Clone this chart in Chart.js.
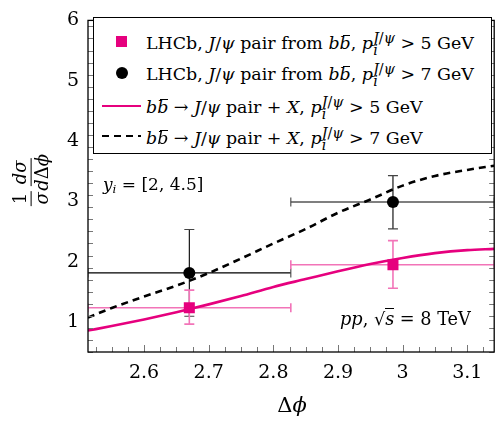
<!DOCTYPE html>
<html><head><meta charset="utf-8">
<script src="https://cdn.jsdelivr.net/npm/chart.js@4.4.0/dist/chart.umd.min.js"></script>
<style>
html,body{margin:0;padding:0;background:#fff;}
#wrap{position:relative;width:502px;height:422px;font-family:'DejaVu Serif','Liberation Serif',serif;color:#000;overflow:hidden;}
canvas{position:absolute;left:0;top:0;}
.ov{position:absolute;white-space:nowrap;line-height:1;}
i{font-style:italic;}
.bar{position:relative;display:inline-block;}
.bar::after{content:'';position:absolute;left:0.18em;right:0.02em;top:0.02em;border-top:1px solid #000;}
.ss{display:inline-flex;flex-direction:column;align-items:flex-start;vertical-align:0.4em;font-size:0.82em;line-height:0.85;margin-left:0.02em;}
.ss span{display:block;}
#legend{position:absolute;left:93px;top:17px;width:399px;height:137px;border:1px solid #000;background:#fff;box-sizing:border-box;}
.lt{position:absolute;left:52px;font-size:17.4px;white-space:nowrap;line-height:1;}
.frac{display:inline-flex;flex-direction:column;align-items:center;vertical-align:middle;line-height:1.05;}
.frac .num{border-bottom:1px solid #000;padding:0 2px 1px 2px;}
.frac .den{padding-top:1px;}
</style></head><body>
<div id="wrap">
<canvas id="c" width="502" height="422"></canvas>
<div id="legend">
  <div style="position:absolute;left:22px;top:17.5px;width:11px;height:11px;background:#e6007e;"></div>
  <div class="lt" style="top:14px;">LHCb, <i>J</i>/<i>ψ</i> pair from <i>b</i><i class="bar">b</i>, <i>p</i><span class="ss"><span><i>J</i>/<i>ψ</i></span><span><i>i</i></span></span> &gt; 5 GeV</div>
  <div style="position:absolute;left:21.5px;top:48.5px;width:12px;height:12px;border-radius:50%;background:#000;"></div>
  <div class="lt" style="top:45px;">LHCb, <i>J</i>/<i>ψ</i> pair from <i>b</i><i class="bar">b</i>, <i>p</i><span class="ss"><span><i>J</i>/<i>ψ</i></span><span><i>i</i></span></span> &gt; 7 GeV</div>
  <div style="position:absolute;left:8px;top:86.5px;width:39px;height:2.5px;background:#e6007e;"></div>
  <div class="lt" style="top:78px;"><i>b</i><i class="bar">b</i> → <i>J</i>/<i>ψ</i> pair + <i>X</i>, <i>p</i><span class="ss"><span><i>J</i>/<i>ψ</i></span><span><i>i</i></span></span> &gt; 5 GeV</div>
  <div style="position:absolute;left:8px;top:116.5px;width:39px;height:2.5px;background:repeating-linear-gradient(90deg,#000 0 7px,transparent 7px 12px);"></div>
  <div class="lt" style="top:109px;"><i>b</i><i class="bar">b</i> → <i>J</i>/<i>ψ</i> pair + <i>X</i>, <i>p</i><span class="ss"><span><i>J</i>/<i>ψ</i></span><span><i>i</i></span></span> &gt; 7 GeV</div>
</div>
<div class="ov" style="left:103px;top:176px;font-size:17px;"><i>y</i><sub style="font-size:0.7em;vertical-align:-0.25em;"><i>i</i></sub> = [2, 4.5]</div>
<div class="ov" style="left:340px;top:311px;font-size:17.7px;"><i>pp</i>, √<span style="border-top:1px solid #000;"><i>s</i></span> = 8 TeV</div>
<div class="ov" style="left:292px;top:405px;font-size:21px;transform:translate(-50%,-50%);">Δ<i>ϕ</i></div>
<div class="ov" style="left:31px;top:180px;font-size:18px;transform:translate(-50%,-50%) rotate(-90deg);">
  <span class="frac"><span class="num">1</span><span class="den"><i>σ</i></span></span><span class="frac"><span class="num"><i>dσ</i></span><span class="den"><i>d</i>Δ<i>ϕ</i></span></span>
</div>
</div>
<script>
// ---- data ----
const xMin = 0.8 * Math.PI;
const xMax = Math.PI;
const yMin = 0.5;
const yMax = 6;
const xTickVals = [2.6, 2.7, 2.8, 2.9, 3.0, 3.1];
const yTickVals = [1, 2, 3, 4, 5, 6];

const curveX  = [2.513, 2.55, 2.60, 2.65, 2.70, 2.75, 2.80, 2.85, 2.90, 2.95, 3.00, 3.05, 3.10, 3.1416];
const curve5  = [0.855, 0.93, 1.04, 1.16, 1.29, 1.43, 1.58, 1.71, 1.84, 1.96, 2.06, 2.14, 2.19, 2.21];
const curve7  = [1.07, 1.23, 1.42, 1.60, 1.81, 2.05, 2.30, 2.54, 2.81, 3.03, 3.26, 3.42, 3.52, 3.59];

const binMid  = [2.670, 2.985];
const binLow  = [2.513, 2.827];
const binHigh = [2.827, 3.1416];
const pts5    = [1.234, 1.948];
const pts5Lo  = [0.963, 1.558];
const pts5Hi  = [1.526, 2.347];
const pts7    = [1.812, 2.987];
const pts7Lo  = [1.093, 2.542];
const pts7Hi  = [2.532, 3.425];

const PINK = '#e6007e';
const PINK_ERR = '#f274b8';
const FONT = "'DejaVu Serif', 'Liberation Serif', serif";

const xy = (xs, ys) => xs.map((x, i) => ({x, y: ys[i]}));

const errPlugin = {
  id: 'errbars',
  beforeDatasetsDraw(chart) {
    const {ctx, chartArea: a, scales: {x, y}} = chart;
    ctx.save();
    ctx.beginPath(); ctx.rect(a.left, a.top, a.right - a.left, a.bottom - a.top); ctx.clip();
    const draw = (ys, lo, hi, col, capCol, w) => {
      for (let i = 0; i < ys.length; i++) {
        const px = x.getPixelForValue(binMid[i]);
        const py = y.getPixelForValue(ys[i]);
        const xl = x.getPixelForValue(binLow[i]);
        const xh = x.getPixelForValue(binHigh[i]);
        const yl = y.getPixelForValue(lo[i]);
        const yh = y.getPixelForValue(hi[i]);
        ctx.strokeStyle = col; ctx.lineWidth = w;
        ctx.beginPath();
        ctx.moveTo(xl, py); ctx.lineTo(xh, py);
        ctx.moveTo(px, yl); ctx.lineTo(px, yh);
        ctx.stroke();
        ctx.strokeStyle = capCol;
        ctx.beginPath();
        ctx.moveTo(xl, py - 4.5); ctx.lineTo(xl, py + 4.5);
        ctx.moveTo(xh, py - 4.5); ctx.lineTo(xh, py + 4.5);
        ctx.moveTo(px - 5, yl); ctx.lineTo(px + 5, yl);
        ctx.moveTo(px - 5, yh); ctx.lineTo(px + 5, yh);
        ctx.stroke();
      }
    };
    draw(pts7, pts7Lo, pts7Hi, '#000', '#444', 1.1);
    draw(pts5, pts5Lo, pts5Hi, PINK_ERR, PINK_ERR, 1.6);
    ctx.restore();
  }
};

const framePlugin = {
  id: 'frame',
  afterDatasetsDraw(chart) {
    const {ctx, chartArea: a, scales: {x, y}} = chart;
    ctx.save();
    ctx.strokeStyle = '#777'; ctx.lineWidth = 1;
    ctx.beginPath();
    const xMinorStep = 0.025, yMinorStep = 0.2;
    for (let v = 2.5; v <= xMax + 1e-9; v += xMinorStep) {
      if (v < xMin - 1e-9) continue;
      const major = Math.abs(v * 10 - Math.round(v * 10)) < 1e-6;
      const len = major ? 7 : 5;
      const px = Math.round(x.getPixelForValue(v)) + 0.5;
      ctx.moveTo(px, a.bottom); ctx.lineTo(px, a.bottom - len);
      ctx.moveTo(px, a.top); ctx.lineTo(px, a.top + len);
    }
    for (let v = yMin; v <= yMax + 1e-9; v += yMinorStep) {
      const major = Math.abs(v - Math.round(v)) < 1e-6;
      const len = major ? 7 : 5;
      const py = Math.round(y.getPixelForValue(v)) + 0.5;
      ctx.moveTo(a.left, py); ctx.lineTo(a.left + len, py);
      ctx.moveTo(a.right, py); ctx.lineTo(a.right - len, py);
    }
    ctx.stroke();
    ctx.strokeStyle = '#000'; ctx.lineWidth = 1.3;
    ctx.strokeRect(a.left, a.top, a.right - a.left, a.bottom - a.top);
    ctx.restore();
  }
};

new Chart(document.getElementById('c'), {
  type: 'scatter',
  data: {
    datasets: [
      {label: 'pts5', data: xy(binMid, pts5), pointStyle: 'rect', pointRadius: 7.8, pointHoverRadius: 7.8,
       backgroundColor: PINK, borderColor: PINK, borderWidth: 0, order: 0},
      {label: 'pts7', data: xy(binMid, pts7), pointStyle: 'circle', pointRadius: 6, pointHoverRadius: 6,
       backgroundColor: '#000', borderColor: '#000', borderWidth: 0, order: 0},
      {label: 'curve5', type: 'line', data: xy(curveX, curve5), borderColor: PINK, borderWidth: 2.6,
       pointRadius: 0, fill: false, cubicInterpolationMode: 'monotone', order: 1},
      {label: 'curve7', type: 'line', data: xy(curveX, curve7), borderColor: '#000', borderWidth: 2.6,
       borderDash: [7, 5], pointRadius: 0, fill: false, cubicInterpolationMode: 'monotone', order: 1}
    ]
  },
  options: {
    responsive: false,
    animation: false,
    events: [],
    layout: {padding: {left: 0, right: 5, top: 13.5, bottom: 0}},
    plugins: {legend: {display: false}, tooltip: {enabled: false}},
    scales: {
      x: {
        type: 'linear', min: xMin, max: xMax,
        afterBuildTicks: s => { s.ticks = xTickVals.map(v => ({value: v})); },
        afterFit: s => { s.height = 70; },
        grid: {display: false, drawTicks: false},
        border: {display: false},
        ticks: {padding: 10, color: '#000', font: {family: FONT, size: 19},
                callback: v => (Math.abs(v - 3) < 1e-9 ? '3' : v.toFixed(1)), maxRotation: 0, autoSkip: false}
      },
      y: {
        type: 'linear', min: yMin, max: yMax,
        afterBuildTicks: s => { s.ticks = yTickVals.map(v => ({value: v})); },
        afterFit: s => { s.width = 88; },
        grid: {display: false, drawTicks: false},
        border: {display: false},
        ticks: {padding: 9, color: '#000', font: {family: FONT, size: 19},
                callback: v => String(v), autoSkip: false}
      }
    }
  },
  plugins: [errPlugin, framePlugin]
});
</script>
</body></html>
